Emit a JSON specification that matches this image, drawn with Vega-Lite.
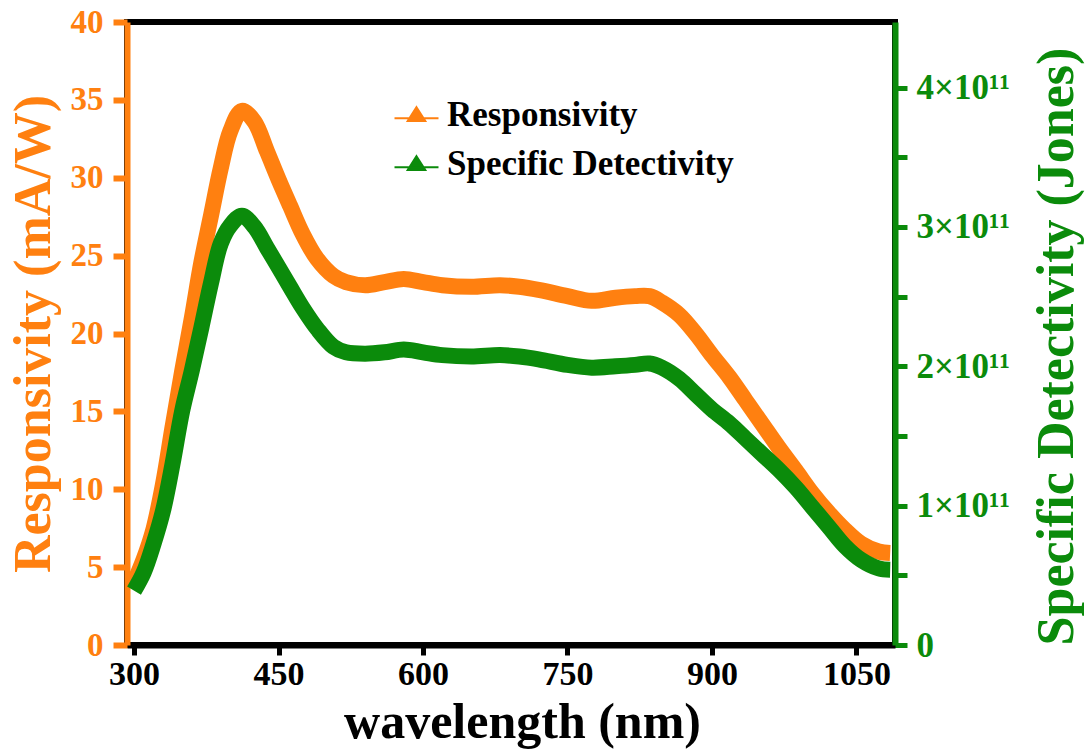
{
  "$schema": "https://vega.github.io/schema/vega-lite/v6.json",
  "width": 768,
  "height": 623,
  "autosize": {"type": "none"},
  "padding": {"left": 127, "top": 22, "right": 194, "bottom": 110},
  "background": "white",
  "config": {
    "view": {"stroke": "black", "strokeWidth": 6},
    "font": "Liberation Serif"
  },
  "data": {
    "values": [
      {"wl": 300, "R": 4.0, "D": 0.39e11},
      {"wl": 310, "R": 5.5, "D": 0.52e11},
      {"wl": 320, "R": 7.4, "D": 0.72e11},
      {"wl": 330, "R": 10.3, "D": 0.96e11},
      {"wl": 340, "R": 14.0, "D": 1.30e11},
      {"wl": 350, "R": 17.6, "D": 1.68e11},
      {"wl": 360, "R": 21.0, "D": 1.97e11},
      {"wl": 370, "R": 24.6, "D": 2.28e11},
      {"wl": 380, "R": 27.6, "D": 2.60e11},
      {"wl": 390, "R": 30.6, "D": 2.88e11},
      {"wl": 400, "R": 33.0, "D": 3.01e11},
      {"wl": 412, "R": 34.3, "D": 3.08e11},
      {"wl": 425, "R": 33.6, "D": 3.00e11},
      {"wl": 438, "R": 31.7, "D": 2.85e11},
      {"wl": 450, "R": 29.9, "D": 2.71e11},
      {"wl": 462, "R": 28.2, "D": 2.57e11},
      {"wl": 475, "R": 26.4, "D": 2.42e11},
      {"wl": 490, "R": 24.8, "D": 2.27e11},
      {"wl": 507, "R": 23.7, "D": 2.14e11},
      {"wl": 520, "R": 23.3, "D": 2.10e11},
      {"wl": 540, "R": 23.1, "D": 2.09e11},
      {"wl": 560, "R": 23.3, "D": 2.10e11},
      {"wl": 580, "R": 23.5, "D": 2.12e11},
      {"wl": 600, "R": 23.3, "D": 2.10e11},
      {"wl": 620, "R": 23.1, "D": 2.08e11},
      {"wl": 650, "R": 23.0, "D": 2.07e11},
      {"wl": 680, "R": 23.1, "D": 2.08e11},
      {"wl": 700, "R": 23.0, "D": 2.07e11},
      {"wl": 720, "R": 22.8, "D": 2.05e11},
      {"wl": 750, "R": 22.4, "D": 2.01e11},
      {"wl": 775, "R": 22.1, "D": 1.99e11},
      {"wl": 800, "R": 22.3, "D": 2.00e11},
      {"wl": 820, "R": 22.4, "D": 2.01e11},
      {"wl": 835, "R": 22.4, "D": 2.02e11},
      {"wl": 848, "R": 22.0, "D": 1.99e11},
      {"wl": 866, "R": 21.2, "D": 1.91e11},
      {"wl": 883, "R": 20.0, "D": 1.80e11},
      {"wl": 900, "R": 18.6, "D": 1.69e11},
      {"wl": 918, "R": 17.2, "D": 1.59e11},
      {"wl": 935, "R": 15.7, "D": 1.48e11},
      {"wl": 952, "R": 14.2, "D": 1.37e11},
      {"wl": 969, "R": 12.7, "D": 1.26e11},
      {"wl": 987, "R": 11.2, "D": 1.13e11},
      {"wl": 1004, "R": 9.75, "D": 0.99e11},
      {"wl": 1021, "R": 8.5, "D": 0.85e11},
      {"wl": 1038, "R": 7.4, "D": 0.71e11},
      {"wl": 1055, "R": 6.5, "D": 0.61e11},
      {"wl": 1073, "R": 6.0, "D": 0.55e11},
      {"wl": 1085, "R": 5.9, "D": 0.54e11}
    ]
  },
  "encoding": {
    "x": {
      "field": "wl",
      "type": "quantitative",
      "scale": {"domain": [292.7, 1090], "nice": false, "zero": false},
      "axis": {
        "values": [300, 450, 600, 750, 900, 1050],
        "format": "d",
        "grid": false,
        "domainColor": "black",
        "domainWidth": 6,
        "tickColor": "black",
        "tickWidth": 5,
        "tickSize": 10,
        "labelFont": "Liberation Serif",
        "labelFontWeight": "bold",
        "labelFontSize": 34,
        "labelColor": "black",
        "labelPadding": 2,
        "labelFlush": false,
        "title": "wavelength (nm)",
        "titleFont": "Liberation Serif",
        "titleFontWeight": "bold",
        "titleFontSize": 50,
        "titleColor": "black",
        "titlePadding": 6,
        "titleX": 395
      }
    }
  },
  "layer": [
    {
      "mark": {"type": "line", "strokeWidth": 16, "interpolate": "catmull-rom", "clip": false, "strokeCap": "butt"},
      "encoding": {
        "y": {
          "field": "R",
          "type": "quantitative",
          "scale": {"domain": [0, 40], "nice": false},
          "axis": {
            "orient": "left",
            "values": [0, 5, 10, 15, 20, 25, 30, 35, 40],
            "grid": false,
            "domainColor": "#FF8010",
            "domainWidth": 6,
            "tickColor": "#FF8010",
            "tickWidth": 6,
            "tickSize": 14,
            "labelFont": "Liberation Serif",
            "labelFontWeight": "bold",
            "labelFontSize": 33,
            "labelColor": "#FF8010",
            "labelPadding": 10,
            "labelOverlap": false,
            "title": "Responsivity (mA/W)",
            "titleFont": "Liberation Serif",
            "titleFontWeight": "bold",
            "titleFontSize": 52,
            "titleColor": "#FF8010",
            "titlePadding": 10
          }
        },
        "color": {
          "datum": "Responsivity",
          "scale": {"domain": ["Responsivity", "Specific Detectivity"], "range": ["#FF8010", "#0B8B0B"]},
          "legend": {
            "orient": "none",
            "legendX": 272,
            "legendY": 75,
            "title": null,
            "padding": 0,
            "labelFont": "Liberation Serif",
            "labelFontWeight": "bold",
            "labelFontSize": 35,
            "labelColor": "black",
            "labelLimit": 0,
            "labelOffset": 13,
            "rowPadding": 13,
            "symbolType": "M-3,0.5H3M0,-1L1.2,0.9H-1.2Z",
            "symbolSize": 215,
            "symbolStrokeWidth": 2,
            "encode": {
              "symbols": {
                "update": {
                  "fill": {"scale": "color", "field": "value"},
                  "stroke": {"scale": "color", "field": "value"}
                }
              }
            }
          }
        }
      }
    },
    {
      "mark": {"type": "line", "strokeWidth": 16, "interpolate": "catmull-rom", "clip": false, "strokeCap": "butt"},
      "encoding": {
        "y": {
          "field": "D",
          "type": "quantitative",
          "scale": {"domain": [0, 4.47e11], "nice": false},
          "axis": {
            "orient": "right",
            "values": [0, 0.5e11, 1e11, 1.5e11, 2e11, 2.5e11, 3e11, 3.5e11, 4e11],
            "labelExpr": "datum.value == 0 ? '0' : (datum.value % 1e11 == 0 ? format(datum.value / 1e11, 'd') + '×10¹¹' : '')",
            "grid": false,
            "domainColor": "#0B8B0B",
            "domainWidth": 6,
            "tickColor": "#0B8B0B",
            "tickWidth": 5,
            "tickSize": 12,
            "labelFont": "Liberation Serif",
            "labelFontWeight": "bold",
            "labelFontSize": 35,
            "labelColor": "#0B8B0B",
            "labelPadding": 9,
            "labelOverlap": false,
            "title": "Specific Detectivity (Jones)",
            "titleFont": "Liberation Serif",
            "titleFontWeight": "bold",
            "titleFontSize": 52,
            "titleColor": "#0B8B0B",
            "titleAngle": 270,
            "titleBaseline": "top",
            "titlePadding": 22,
            "titleY": 324
          }
        },
        "color": {"datum": "Specific Detectivity"}
      }
    }
  ],
  "resolve": {"scale": {"y": "independent"}}
}
